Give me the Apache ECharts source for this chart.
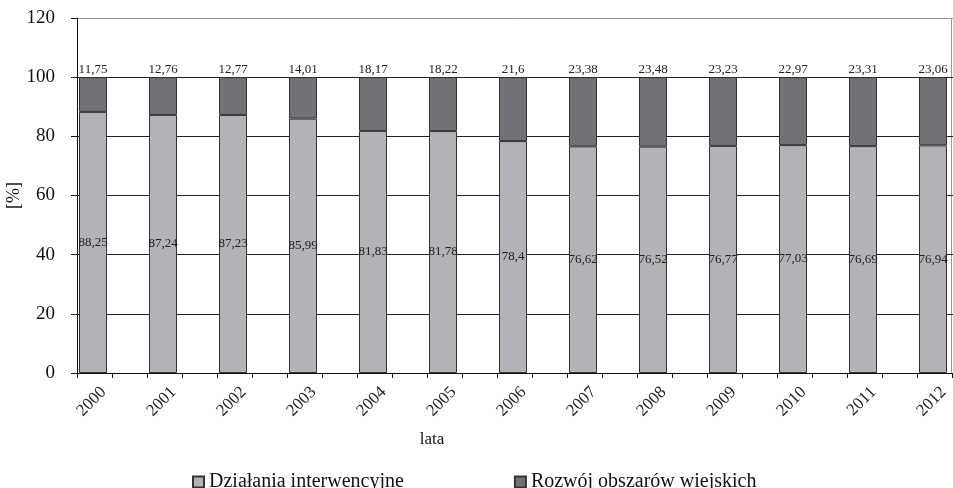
<!DOCTYPE html>
<html>
<head>
<meta charset="utf-8">
<script src="https://cdn.jsdelivr.net/npm/echarts@6/dist/echarts.min.js"></script>
<style>html,body{margin:0;padding:0;background:#fff}#c{width:953px;height:488px}</style>
</head>
<body>
<div id="c"></div>
<script>
const years = ['2000','2001','2002','2003','2004','2005','2006','2007','2008','2009','2010','2011','2012'];
const interwencyjne = [88.25, 87.24, 87.23, 85.99, 81.83, 81.78, 78.4, 76.62, 76.52, 76.77, 77.03, 76.69, 76.94];
const rozwoj = [11.75, 12.76, 12.77, 14.01, 18.17, 18.22, 21.6, 23.38, 23.48, 23.23, 22.97, 23.31, 23.06];
const yTicks = [0, 20, 40, 60, 80, 100, 120];
const seriesNames = ['Działania interwencyjne', 'Rozwój obszarów wiejskich'];

const FONT = 'Liberation Serif';
const fmt = p => String(p.value).replace('.', ',');
const halfTicks = years.flatMap(() => ['', '']);

const chart = echarts.init(document.getElementById('c'), null, {renderer: 'canvas'});
chart.setOption({
  animation: false,
  backgroundColor: '#fff',
  textStyle: {fontFamily: FONT},
  grid: {left: 77, width: 910, top: 18, bottom: 115, containLabel: false, outerBoundsMode: 'none'},
  legend: {
    data: seriesNames,
    top: 467,
    left: 187,
    itemGap: 110,
    itemWidth: 11,
    itemHeight: 11,
    icon: 'rect',
    textStyle: {fontFamily: FONT, fontSize: 20, color: '#111'}
  },
  xAxis: [{
    type: 'category',
    data: years,
    name: 'lata',
    nameLocation: 'middle',
    nameGap: 58,
    nameMoveOverlap: false,
    nameTextStyle: {fontFamily: FONT, fontSize: 17, color: '#111', padding: [0, 200, 0, 0]},
    axisLine: {lineStyle: {color: '#111', width: 1}},
    axisTick: {show: false},
    axisLabel: {rotate: 45, fontFamily: FONT, fontSize: 17, color: '#222', margin: 8, padding: [0, 12, 0, 0], interval: 0}
  }, {
    type: 'category',
    data: halfTicks,
    position: 'bottom',
    axisLine: {show: false},
    axisTick: {show: true, length: 5, lineStyle: {color: '#111'}},
    axisLabel: {show: false},
    splitLine: {show: false}
  }],
  yAxis: {
    type: 'value',
    min: 0, max: 120, interval: 20,
    name: '[%]',
    nameLocation: 'middle',
    nameGap: 54,
    nameMoveOverlap: false,
    nameRotate: 90,
    nameTextStyle: {fontFamily: FONT, fontSize: 18, color: '#111'},
    axisLine: {show: true, lineStyle: {color: '#111', width: 1}},
    axisTick: {show: true, length: 6, lineStyle: {color: '#111'}},
    axisLabel: {fontFamily: FONT, fontSize: 19, color: '#111', margin: 22,
      formatter: v => yTicks.includes(v) ? String(v) : ''},
    splitLine: {show: true, lineStyle: {color: ['#222','#222','#222','#222','#222','#222','#999'], width: 1}}
  },
  series: [{
    name: seriesNames[0],
    type: 'bar',
    stack: 'a',
    barWidth: 28,
    barGap: '35.7%',
    data: interwencyjne,
    itemStyle: {color: '#b2b3b7', borderColor: '#333', borderWidth: 1},
    label: {show: true, position: 'inside', formatter: fmt, fontFamily: FONT, fontSize: 13, color: '#222'}
  }, {
    name: seriesNames[1],
    type: 'bar',
    stack: 'a',
    barWidth: 28,
    data: rozwoj,
    itemStyle: {color: '#717276', borderColor: '#333', borderWidth: 1},
    label: {show: true, position: 'top', distance: 1, formatter: fmt, fontFamily: FONT, fontSize: 13, color: '#222'}
  }, {
    name: 'pad',
    type: 'bar',
    stack: 'b',
    barWidth: 28,
    data: years.map(() => null),
    silent: true,
    itemStyle: {color: 'transparent'}
  }],
  graphic: [{
    type: 'line',
    shape: {x1: 951.5, y1: 18, x2: 951.5, y2: 373},
    style: {stroke: '#999', lineWidth: 1}
  }]
});
</script>
</body>
</html>
